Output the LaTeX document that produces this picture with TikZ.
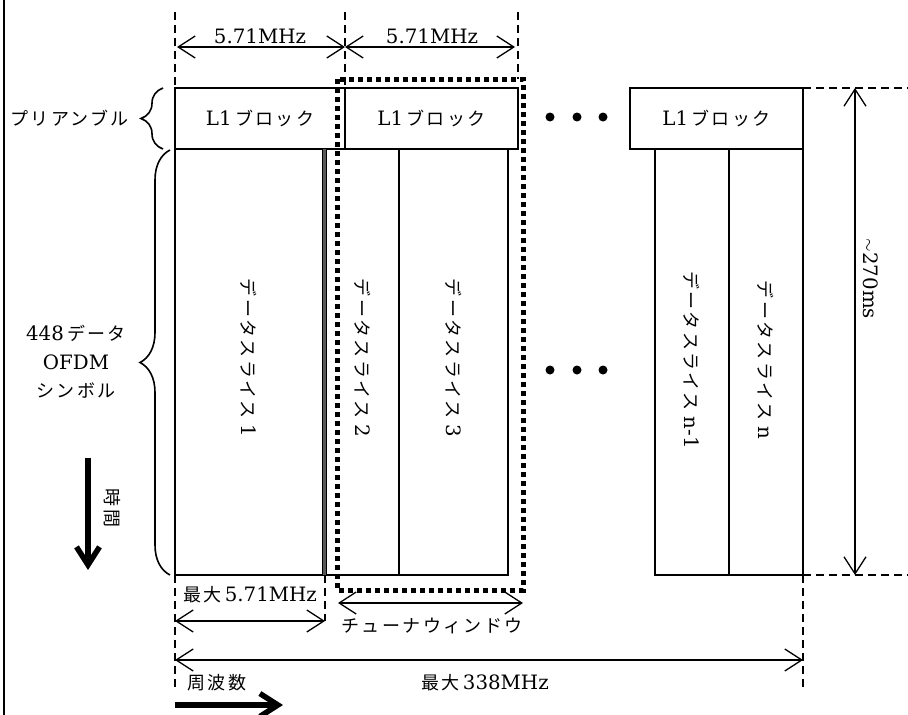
\documentclass[tikz,border=0pt]{standalone}
\usepackage{fontspec}
\setmainfont[Scale=1.1]{DejaVu Serif}
\newfontfamily\jp[LetterSpace=13]{Noto Sans CJK JP}
\usetikzlibrary{arrows.meta,decorations.pathreplacing}
\tikzset{
  box/.style={draw,line width=1.2pt,inner sep=0pt,outer sep=0pt,anchor=north west},
  dim/.style={line width=1.3pt,{Straight Barb[length=17pt,width=22pt]}-{Straight Barb[length=17pt,width=22pt]}},
  guide/.style={dash pattern=on 8pt off 5pt,line width=1.6pt},
  txt/.style={font=\fontsize{18}{21}\selectfont,inner sep=0pt},
  brc/.style={decorate,decoration={brace,amplitude=#1},line width=1.6pt},
  bigarrow/.style={line width=5.5pt,-{Straight Barb[length=18pt,width=23pt]}},
  win/.style={line width=5pt,dash pattern=on 5pt off 4pt},
  dotmark/.style={circle,fill,inner sep=0pt,minimum size=9pt},
  border/.style={line width=2pt}
}
\begin{document}
\begin{tikzpicture}[x=1pt,y=-1pt]
\useasboundingbox (0,0) rectangle (908,715);
% left border
\coordinate (bt) at (4,0); \coordinate (bb) at (4,715);
\draw[border] (bt) -- (bb);
% preamble blocks
\node[box,minimum width=170pt,minimum height=61pt] (L1a) at (175,88) {};
\node[box,minimum width=173pt,minimum height=61pt] (L1b) at (345,88) {};
\node[box,minimum width=173pt,minimum height=61pt] (L1c) at (630,88) {};
\node[txt] at (L1a.center) {L1\,{\jp ブロック}};
\node[txt] at (L1b.center) {L1\,{\jp ブロック}};
\node[txt] at (L1c.center) {L1\,{\jp ブロック}};
% data slices
\node[box,minimum width=148pt,minimum height=426pt] (s1) at (175,149) {};
\node[box,minimum width=73pt,minimum height=426pt] (s2) at (326,149) {};
\node[box,minimum width=109pt,minimum height=426pt] (s3) at (399,149) {};
\node[box,minimum width=74pt,minimum height=426pt] (sn1) at (655,149) {};
\node[box,minimum width=74pt,minimum height=426pt] (sn) at (729,149) {};
\path (s1.north east) ++(1.5,0) coordinate (gg1) (s1.south east) ++(1.5,0) coordinate (gg2);
\draw[line width=3pt,black!65] (gg1) -- (gg2);
\node[txt,rotate=-90] at ([yshift=4]s1.center) {{\jp データスライス} 1};
\node[txt,rotate=-90] at ([yshift=4]s2.center) {{\jp データスライス} 2};
\node[txt,rotate=-90] at ([yshift=4]s3.center) {{\jp データスライス} 3};
\node[txt,rotate=-90] at ([yshift=2]sn1.center) {{\jp データスライス} n-1};
\node[txt,rotate=-90] at ([yshift=2]sn.center) {{\jp データスライス} n};
% tuner window
\coordinate (twa) at (337,79); \coordinate (twb) at (523,590);
\draw[win] (twa) rectangle (twb);
% dots
\node[dotmark] (d1) at (550,117) {};
\node[dotmark] (d2) at (577,117) {};
\node[dotmark] (d3) at (603,117) {};
\node[dotmark] (d4) at (550,370) {};
\node[dotmark] (d5) at (577,370) {};
\node[dotmark] (d6) at (603,370) {};
% top guides and dimensions
\coordinate (g1t) at (175,12); \coordinate (g2t) at (345,12); \coordinate (g3t) at (518,12);
\coordinate (g3b) at (518,79);
\draw[guide] (g1t) -- (L1a.north west);
\draw[guide] (g2t) -- (L1b.north west);
\draw[guide] (g3t) -- (g3b);
\coordinate (a1l) at (177,47); \coordinate (a1r) at (345,47); \coordinate (a2r) at (515,47);
\draw[dim] (a1l) -- (a1r);
\draw[dim] (a1r) -- (a2r);
\node[txt] (w1) at (260,36) {5.71MHz};
\node[txt] (w2) at (432,36) {5.71MHz};
% right dimension
\coordinate (rt) at (908,88); \coordinate (rb) at (908,575);
\draw[guide] (L1c.north east) -- (rt);
\draw[guide] (sn.south east) -- (rb);
\coordinate (vt) at (855,88); \coordinate (vb) at (855,575);
\draw[dim] (vt) -- (vb);
\node[txt,rotate=-90] (ms) at (871,279) {$\sim$270ms};
% bottom guides and dimensions
\coordinate (bg1) at (175,690); \coordinate (bg2) at (325,621); \coordinate (bg3) at (803,690);
\path (s2.south west) ++(-1,0) coordinate (bg2t);
\draw[guide] (s1.south west) -- (bg1);
\draw[guide] (bg2t) -- (bg2);
\draw[guide] (sn.south east) -- (bg3);
\coordinate (m1l) at (175,621);
\draw[dim] (m1l) -- (bg2);
\node[txt] (m1t) at (250,595) {{\jp 最大}\,5.71MHz};
\coordinate (t1l) at (338,603); \coordinate (t1r) at (523,603);
\draw[dim] (t1l) -- (t1r);
\node[txt] (tt) at (432,626) {\jp チューナウィンドウ};
\coordinate (f1l) at (175,660); \coordinate (f1r) at (803,660);
\draw[dim] (f1l) -- (f1r);
\node[txt] (ft) at (485,683) {{\jp 最大}\,338MHz};
\node[txt] (fq) at (217,683) {\jp 周波数};
\coordinate (fa1) at (175,705); \coordinate (fa2) at (283,705);
\draw[bigarrow] (fa1) -- (fa2);
% left labels
\coordinate (br1a) at (163,149); \coordinate (br1b) at (163,88);
\draw[brc=22pt] (br1a) -- (br1b);
\node[txt,anchor=east] (pre) at (129,118) {\jp プリアンブル};
\coordinate (br2a) at (170,575); \coordinate (br2b) at (170,150);
\draw[brc=30pt] (br2a) -- (br2b);
\node[txt,align=center,font=\fontsize{18}{28.5}\selectfont] (sym) at (76,362) {448\,{\jp データ}\\OFDM\\{\jp シンボル}};
\coordinate (ta1) at (88,458); \coordinate (ta2) at (88,570);
\draw[bigarrow] (ta1) -- (ta2);
\node[txt,rotate=-90] (tm) at (112,508) {\jp 時間};
\end{tikzpicture}
\end{document}
